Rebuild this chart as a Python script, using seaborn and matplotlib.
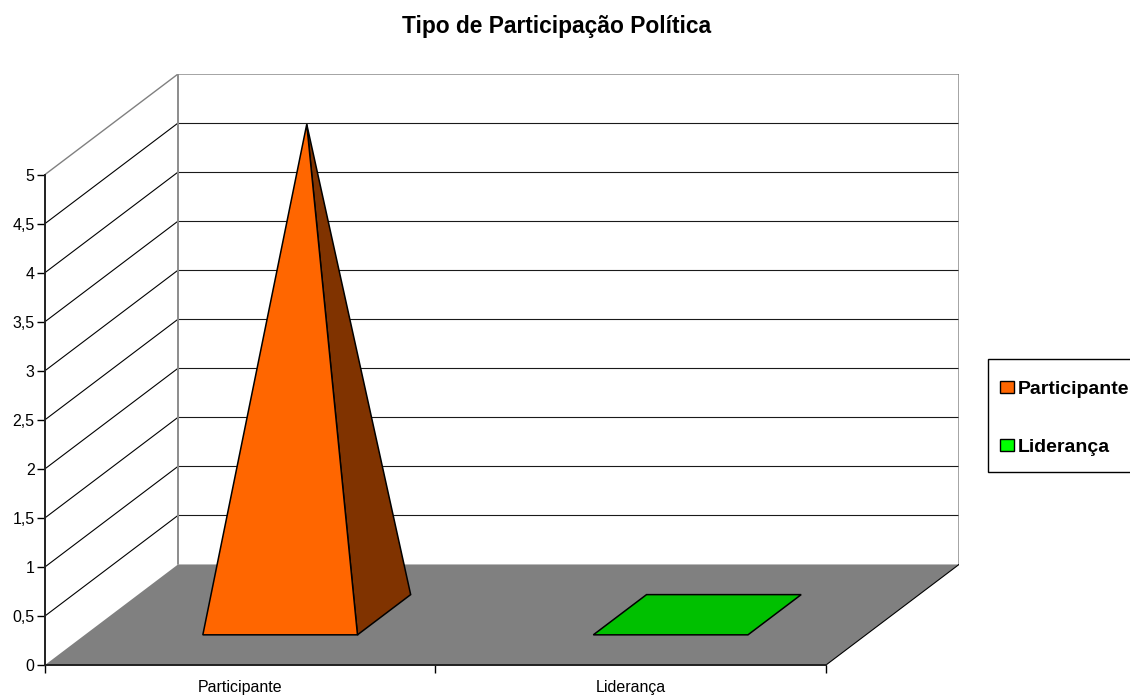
import matplotlib
matplotlib.use("Agg")
import matplotlib.pyplot as plt
from matplotlib.patches import Polygon, Patch, Rectangle
from matplotlib.ticker import FuncFormatter, FixedLocator
import seaborn as sns

# ---- data ----
categories = ["Participante", "Liderança"]
values = [5, 0]
face_colors = ["#FF6600", "#00C000"]
side_colors = ["#803300", "#006000"]
legend_colors = ["#FF6600", "#00FF00"]
y_ticks = [0, 0.5, 1, 1.5, 2, 2.5, 3, 3.5, 4, 4.5, 5]
title = "Tipo de Participação Política"

sns.set_theme(style="white")
plt.rcParams["font.family"] = ["Liberation Sans", "DejaVu Sans"]
plt.rcParams["text.color"] = "black"

W, H = 1130, 696
fig = plt.figure(figsize=(W / 100, H / 100), dpi=100)

# oblique depth offset of the 3D box, in data units
DX, DY = 0.3406, 1.025
ymax = max(y_ticks)

left_px, right_px = 45, 959
bottom_px, top_px = 665, 74
ax = fig.add_axes([left_px / W, 1 - bottom_px / H,
                   (right_px - left_px) / W, (bottom_px - top_px) / H])
ax.set_xlim(-0.5, len(categories) - 0.5 + DX)
ax.set_ylim(0, ymax + DY)
ax.patch.set_alpha(0)


def proj(x, depth, v):
    """Project a point (category x, depth 0..1, value v) onto the axes plane."""
    return (x + depth * DX, v + depth * DY)


x0, x1 = -0.5, len(categories) - 0.5

# floor
floor = Polygon([proj(x0, 0, 0), proj(x1, 0, 0), proj(x1, 1, 0), proj(x0, 1, 0)],
                closed=True, facecolor="#808080", edgecolor="none", zorder=1)
ax.add_patch(floor)

# back wall gridlines and side-wall diagonals
for v in y_ticks[1:-1]:
    xa, ya = proj(x0, 1, v)
    xb, yb = proj(x1, 1, v)
    ax.plot([xa, xb], [ya, yb], color="#1a1a1a", lw=0.8, zorder=2)
    xc, yc = proj(x0, 0, v)
    ax.plot([xc, xa], [yc, ya], color="black", lw=0.8, zorder=2)
# top diagonal, top edge, wall edges
xa, ya = proj(x0, 1, ymax)
xb, yb = proj(x1, 1, ymax)
xc, yc = proj(x0, 0, ymax)
ax.plot([xc, xa, xb, xb], [yc, ya, yb, proj(x1, 1, 0)[1]], color="#808080", lw=1.0, zorder=2)
ax.plot([xa, xa], [ya, proj(x0, 1, 0)[1]], color="#8c8c8c", lw=1.4, zorder=2)
# right floor edge
ax.plot([proj(x1, 0, 0)[0], proj(x1, 1, 0)[0]], [0, DY], color="black", lw=0.8, zorder=2)

# pyramids
half_w = 0.198
d_front, d_back, d_mid = 0.3, 0.7, 0.5
for i, (v, fc, sc) in enumerate(zip(values, face_colors, side_colors)):
    if v > 0:
        apex = proj(i, d_mid, v)
        front = Polygon([proj(i - half_w, d_front, 0), proj(i + half_w, d_front, 0), apex],
                        closed=True, facecolor=fc, edgecolor="black", lw=1.1, zorder=4)
        side = Polygon([proj(i + half_w, d_front, 0), proj(i + half_w, d_back, 0), apex],
                       closed=True, facecolor=sc, edgecolor="black", lw=1.1, zorder=3)
        ax.add_patch(side)
        ax.add_patch(front)
    else:
        base = Polygon([proj(i - half_w, d_front, 0), proj(i + half_w, d_front, 0),
                        proj(i + half_w, d_back, 0), proj(i - half_w, d_back, 0)],
                       closed=True, facecolor=fc, edgecolor="black", lw=1.1, zorder=3)
        ax.add_patch(base)

# axes spines and ticks
for s in ["top", "right"]:
    ax.spines[s].set_visible(False)
ax.spines["left"].set_bounds(0, ymax)
ax.spines["bottom"].set_bounds(x0, x1)
for s in ["left", "bottom"]:
    ax.spines[s].set_color("#202020")
    ax.spines[s].set_linewidth(1.4)
    ax.spines[s].set_zorder(5)

ax.yaxis.set_major_locator(FixedLocator(y_ticks))
ax.yaxis.set_major_formatter(FuncFormatter(lambda v, p: f"{v:g}".replace(".", ",")))
ax.tick_params(axis="y", which="major", left=True, length=6, width=1, color="black",
               pad=1.5, labelsize=11.5, labelcolor="black")

ax.xaxis.set_major_locator(FixedLocator([x0 + k for k in range(len(categories) + 1)]))
ax.xaxis.set_major_formatter(FuncFormatter(lambda v, p: ""))
ax.xaxis.set_minor_locator(FixedLocator(list(range(len(categories)))))
ax.set_xticklabels(categories, minor=True)
ax.tick_params(axis="x", which="major", bottom=True, length=6, width=1, color="black")
ax.tick_params(axis="x", which="minor", bottom=True, length=0, pad=11,
               labelsize=11.5, labelcolor="black")
ax.grid(False)

fig.text(557 / W, 1 - 33 / H, title, ha="center", va="baseline",
         fontsize=16.4, fontweight="bold", color="black")

# legend box
fig.add_artist(Rectangle((988 / W, 1 - 472 / H), 150 / W, 113 / H,
                         transform=fig.transFigure, facecolor="white",
                         edgecolor="black", lw=1.0, zorder=1))
handles = [Patch(facecolor=c, edgecolor="black", lw=1) for c in legend_colors]
leg = fig.legend(handles, categories, loc="upper left",
                 bbox_to_anchor=(1000 / W, 1 - 381 / H), frameon=False,
                 prop={"weight": "bold", "size": 14}, labelcolor="black",
                 handlelength=0.7, handleheight=0.6, handletextpad=0.2,
                 labelspacing=2.1, borderpad=0, borderaxespad=0)
leg.set_zorder(2)

fig.savefig("out.png", dpi=100)
